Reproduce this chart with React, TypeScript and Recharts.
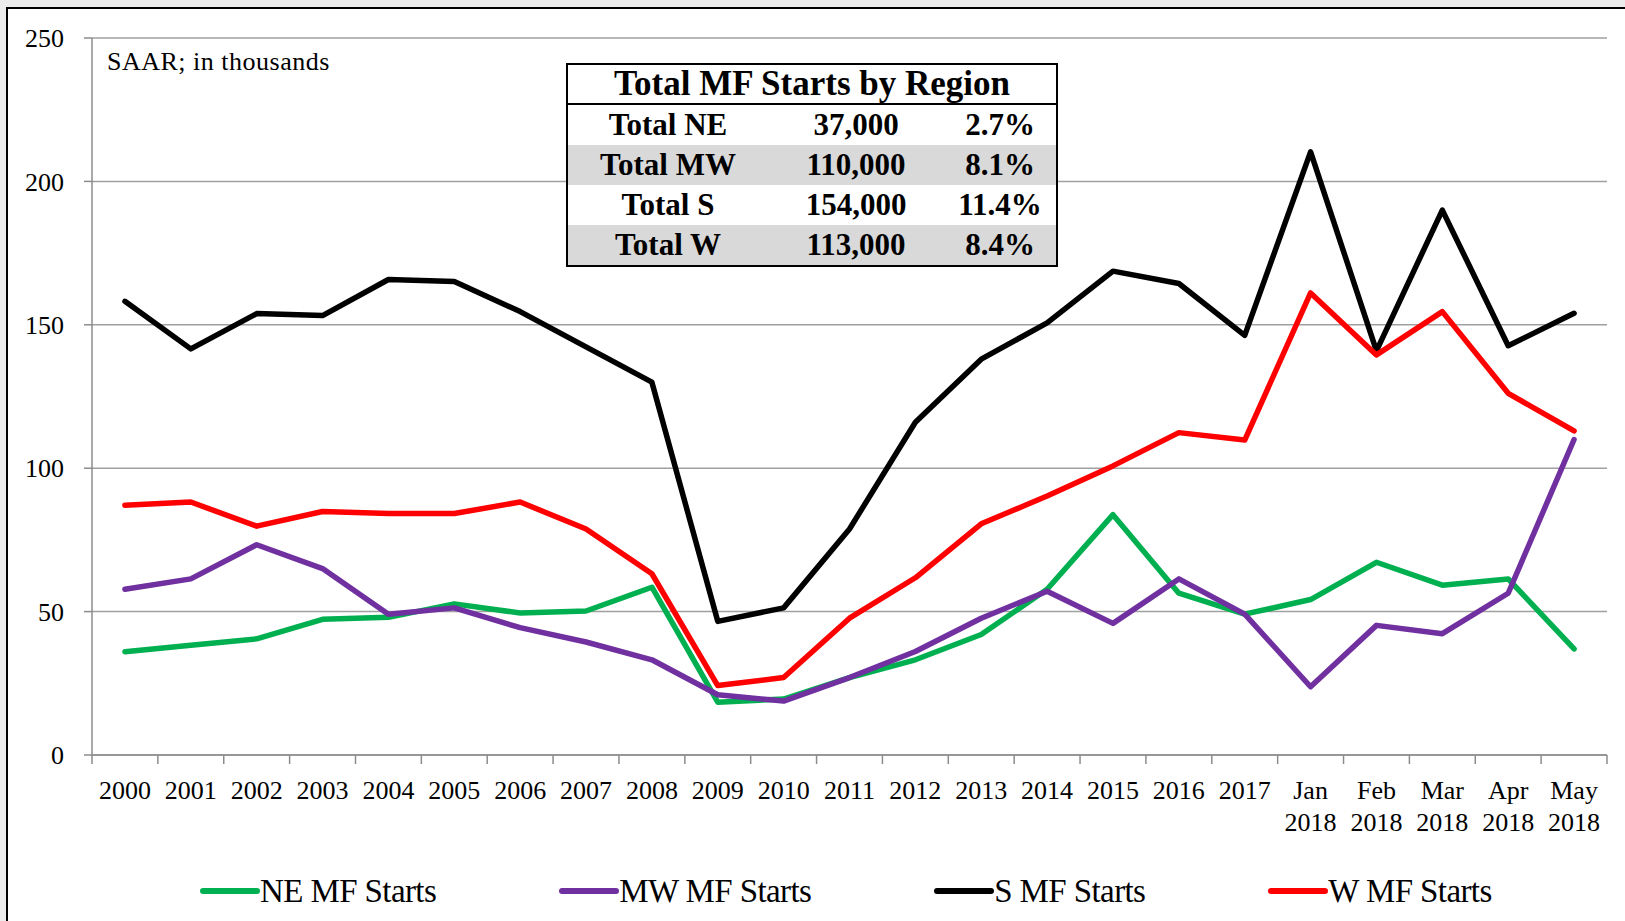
import { LineChart, Line, XAxis, YAxis, CartesianGrid, Legend } from "recharts";

const categories = [
    "2000", "2001", "2002", "2003", "2004", "2005", "2006", "2007", "2008",
    "2009", "2010", "2011", "2012", "2013", "2014", "2015", "2016", "2017",
    "Jan 2018", "Feb 2018", "Mar 2018", "Apr 2018", "May 2018",
]

const neStarts = [36, 38.3, 40.5, 47.3, 48, 52.7, 49.5, 50.2, 58.5, 18.4, 19.5, 27, 33.2, 42, 57.8, 83.8, 56.4, 49.1, 54.2, 67.2, 59.2, 61.4, 37]
const mwStarts = [57.8, 61.4, 73.3, 65, 49.1, 51.3, 44.4, 39.4, 33.2, 21, 18.8, 27, 36.1, 47.7, 57.1, 45.9, 61.4, 49.1, 23.8, 45.2, 42.3, 56.4, 110]
const sStarts = [158.2, 141.6, 153.9, 153.2, 165.8, 165.1, 154.6, 142.3, 130, 46.6, 51.3, 78.8, 116, 138, 150.7, 168.7, 164.4, 146.3, 210.3, 140.9, 190, 142.7, 154]
const wStarts = [87.1, 88.2, 79.8, 84.9, 84.2, 84.2, 88.2, 78.8, 63.2, 24.2, 27, 47.7, 61.8, 80.6, 90.3, 100.8, 112.4, 109.8, 161.1, 139.5, 154.6, 126.1, 113]

const yTicks = [0, 50, 100, 150, 200, 250]

const tableRegions = ["Total NE", "Total MW", "Total S", "Total W"]
const tableTotals = ["37,000", "110,000", "154,000", "113,000"]
const tableShares = ["2.7%", "8.1%", "11.4%", "8.4%"]

const SERIES = [
    { key: "ne", name: "NE MF Starts", color: "#00B050" },
    { key: "mw", name: "MW MF Starts", color: "#7030A0" },
    { key: "s", name: "S MF Starts", color: "#000000" },
    { key: "w", name: "W MF Starts", color: "#FF0000" },
]

const W = 1625
const H = 921
const MARGIN = { top: 38, right: 18, left: 0, bottom: 0 }
const Y_AXIS_W = 92
const LEGEND_H = 70
const X_AXIS_H = 96
const PLOT_LEFT = MARGIN.left + Y_AXIS_W
const PLOT_W = W - PLOT_LEFT - MARGIN.right
const PLOT_BOTTOM = H - MARGIN.bottom - LEGEND_H - X_AXIS_H
const BAND = PLOT_W / categories.length
const FONT = '"Liberation Serif", "Times New Roman", serif'
const AXIS_GRAY = "#8c8c8c"

const data = categories.map((label, i) => ({
    label,
    ne: neStarts[i],
    mw: mwStarts[i],
    s: sStarts[i],
    w: wStarts[i],
}))

function XTick(props: any) {
    const { x, payload, index } = props
    const parts = String(payload.value).split(" ")
    const isLast = index === categories.length - 1
    return (
        <g>
            <line x1={x - BAND / 2} x2={x - BAND / 2} y1={PLOT_BOTTOM} y2={PLOT_BOTTOM + 9} stroke={AXIS_GRAY} strokeWidth={1.5} />
            {isLast && (
                <line x1={x + BAND / 2} x2={x + BAND / 2} y1={PLOT_BOTTOM} y2={PLOT_BOTTOM + 9} stroke={AXIS_GRAY} strokeWidth={1.5} />
            )}
            {parts.map((p, i) => (
                <text key={i} x={x} y={PLOT_BOTTOM + 44 + i * 32} textAnchor="middle" fontFamily={FONT} fontSize={26} fill="#000">
                    {p}
                </text>
            ))}
        </g>
    )
}

function renderLegend() {
    return (
        <div style={{ height: LEGEND_H, paddingTop: 10, boxSizing: "border-box", display: "flex", alignItems: "center", paddingLeft: 200, gap: 123 }}>
            {SERIES.map((s) => (
                <div key={s.key} style={{ display: "flex", alignItems: "center" }}>
                    <div style={{ width: 60, height: 6, borderRadius: 3, background: s.color }} />
                    <span style={{ fontFamily: FONT, fontSize: 33, color: "#000", letterSpacing: -0.6, lineHeight: 1 }}>{s.name}</span>
                </div>
            ))}
        </div>
    )
}

const cell = { display: "flex", alignItems: "center", justifyContent: "center" } as const

function RegionTable() {
    return (
        <div style={{ position: "absolute", left: 566, top: 63, width: 492, border: "2px solid #000", boxSizing: "border-box", background: "#fff", fontFamily: FONT, fontWeight: "bold", color: "#000" }}>
            <div style={{ ...cell, height: 38, fontSize: 35, borderBottom: "2px solid #000" }}>Total MF Starts by Region</div>
            {tableRegions.map((r, i) => (
                <div key={r} style={{ display: "grid", gridTemplateColumns: "200px 176px 1fr", height: 40, fontSize: 31, background: i % 2 === 1 ? "#d9d9d9" : "#fff" }}>
                    <div style={cell}>{r}</div>
                    <div style={cell}>{tableTotals[i]}</div>
                    <div style={cell}>{tableShares[i]}</div>
                </div>
            ))}
        </div>
    )
}

export default function App() {
    return (
        <div style={{ position: "absolute", left: 0, top: 0, width: W, height: H, overflow: "hidden", background: "#ececec" }}>
            <div style={{ position: "absolute", left: 6, top: 7, width: W, height: H, border: "2px solid #000", background: "#fff" }} />
            <div style={{ position: "absolute", left: 0, top: 0 }}>
                <LineChart width={W} height={H} data={data} margin={MARGIN} style={{ fontFamily: FONT }}>
                    <CartesianGrid vertical={false} stroke="#a0a0a0" strokeWidth={1.5} />
                    <XAxis
                        dataKey="label"
                        scale="band"
                        interval={0}
                        height={X_AXIS_H}
                        tickLine={false}
                        tick={<XTick />}
                        axisLine={{ stroke: AXIS_GRAY, strokeWidth: 1.5 }}
                    />
                    <YAxis
                        width={Y_AXIS_W}
                        domain={[0, 250]}
                        ticks={yTicks}
                        tickSize={8}
                        tickMargin={20}
                        tickLine={{ stroke: AXIS_GRAY, strokeWidth: 1.5 }}
                        axisLine={{ stroke: AXIS_GRAY, strokeWidth: 1.5 }}
                        tick={{ fontFamily: FONT, fontSize: 26, fill: "#000" }}
                    />
                    <Legend verticalAlign="bottom" content={renderLegend} wrapperStyle={{ left: 0, width: W }} />
                    {SERIES.map((s) => (
                        <Line
                            key={s.key}
                            type="linear"
                            dataKey={s.key}
                            name={s.name}
                            stroke={s.color}
                            strokeWidth={5.5}
                            strokeLinecap="round"
                            strokeLinejoin="round"
                            dot={false}
                            activeDot={false}
                            isAnimationActive={false}
                        />
                    ))}
                </LineChart>
            </div>
            <div style={{ position: "absolute", left: 107, top: 47, fontFamily: FONT, fontSize: 26, letterSpacing: 0.5, lineHeight: "30px", color: "#000" }}>
                SAAR; in thousands
            </div>
            <RegionTable />
        </div>
    )
}
